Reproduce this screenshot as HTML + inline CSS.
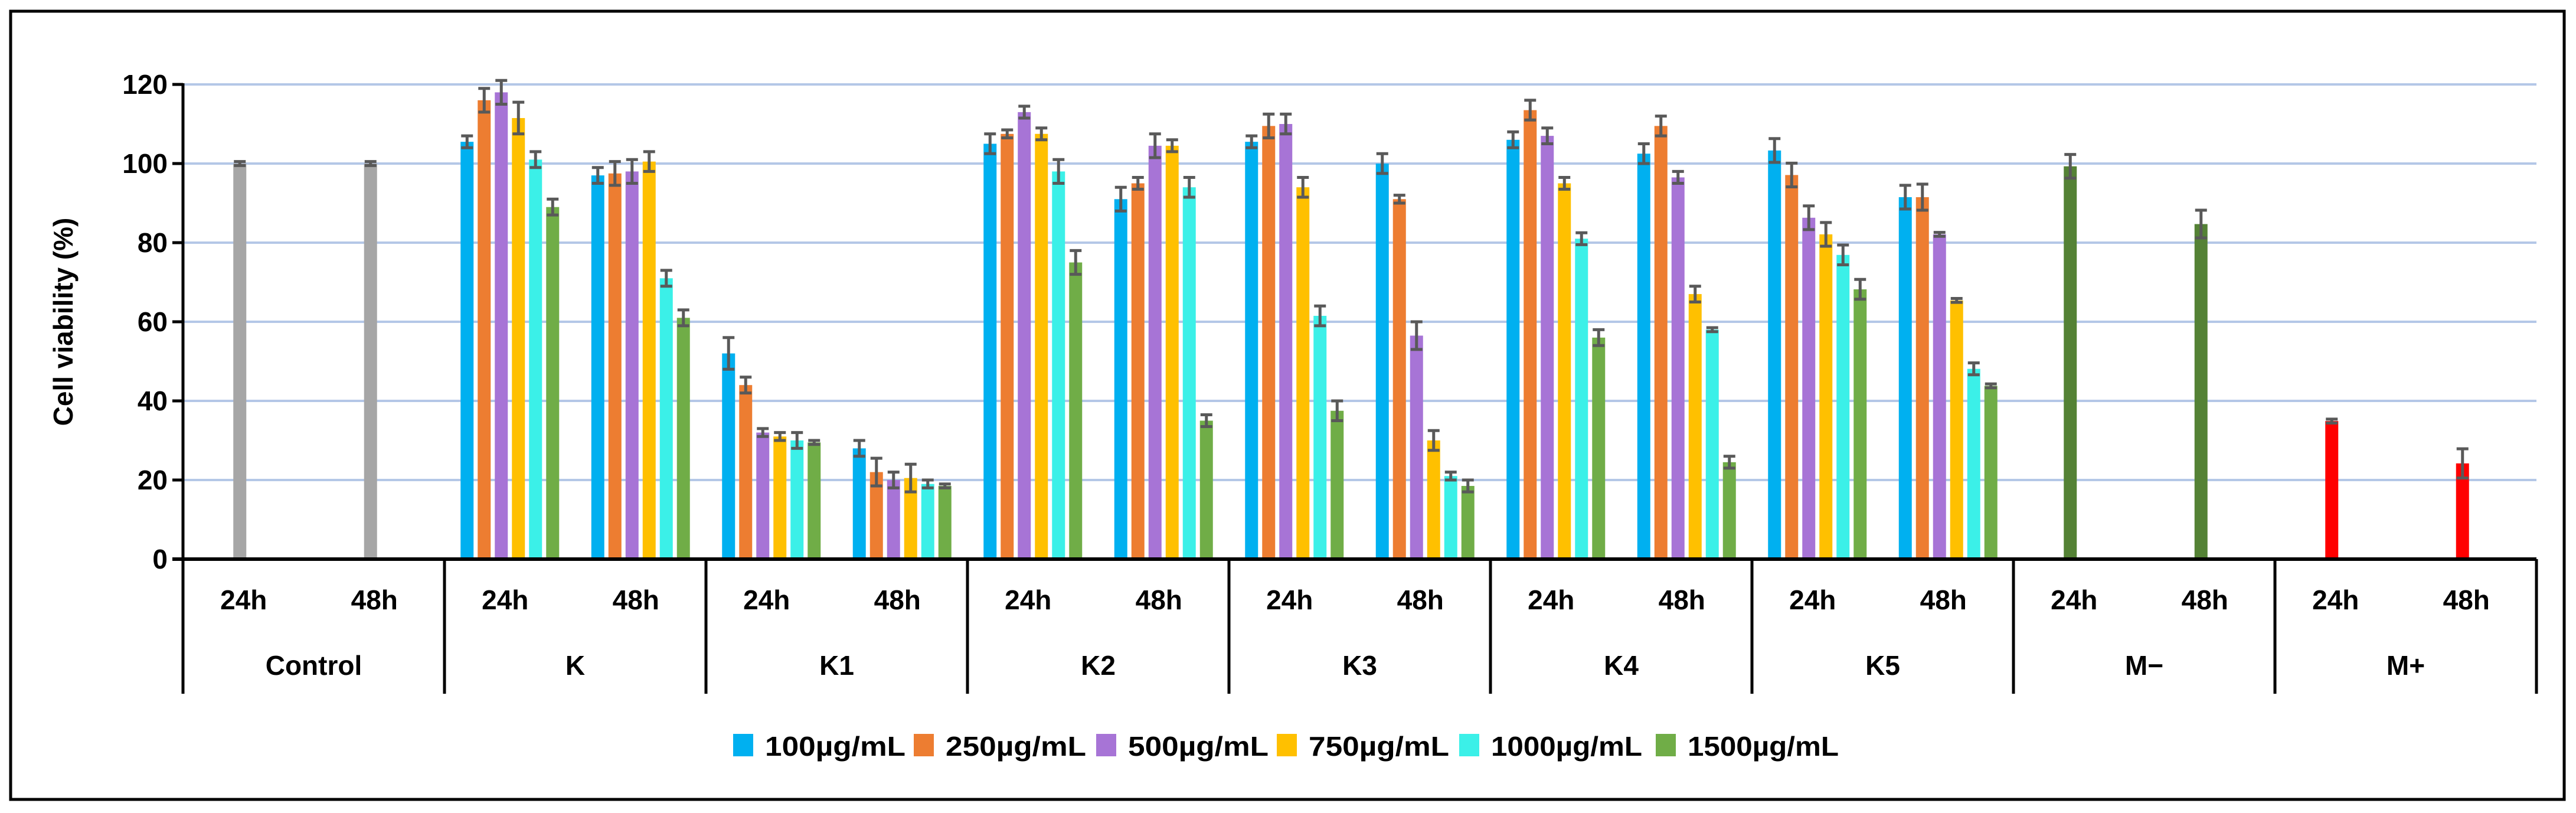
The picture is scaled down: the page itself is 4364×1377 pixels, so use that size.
<!DOCTYPE html>
<html><head><meta charset="utf-8"><style>
html,body{margin:0;padding:0;background:#fff;}
svg{display:block;font-family:"Liberation Sans",sans-serif;font-weight:bold;}
</style></head><body>
<svg id="chart" width="4364" height="1377" viewBox="0 0 4364 1377">
<rect x="18" y="19" width="4326" height="1335" fill="#fff" stroke="#000" stroke-width="5"/>
<g id="grid"></g>
<g id="bars"></g>
<g id="axes"></g>
<text x="111" y="545" font-size="46" text-anchor="middle" transform="rotate(-90 111 545)" dominant-baseline="middle">Cell viability (%)</text>
<g id="legend"></g>
</svg>
<script>
const groups = ["Control","K","K1","K2","K3","K4","K5","M−","M+"];
const times = ["24h","48h"];
const seriesNames = ["100µg/mL","250µg/mL","500µg/mL","750µg/mL","1000µg/mL","1500µg/mL"];
const seriesColors = ["#00B0F0","#ED7D31","#A774D6","#FFC000","#3BF0E8","#70AD47"];
const yTicks = [0,20,40,60,80,100,120];
const valK = [[105.5,116,118,111.5,101,89],[97,97.5,98,100.5,71,61]];
const errK = [[1.5,3,3,4,2,2],[2,3,3,2.5,2,2]];
const valK1 = [[52,44,32,31,30,29.5],[28,22,20,20.5,19,18.5]];
const errK1 = [[4,2,1,1,2,0.5],[2,3.5,2,3.5,1,0.5]];
const valK2 = [[105,107.5,113,107.5,98,75],[91,95,104.5,104.5,94,35]];
const errK2 = [[2.5,1,1.5,1.5,3,3],[3,1.5,3,1.5,2.5,1.5]];
const valK3 = [[105.5,109.5,110,94,61.5,37.5],[100,91,56.5,30,21,18.5]];
const errK3 = [[1.5,3,2.5,2.5,2.5,2.5],[2.5,1,3.5,2.5,1,1.5]];
const valK4 = [[106,113.5,107,95,81,56],[102.5,109.5,96.5,67,58,24.5]];
const errK4 = [[2,2.5,2,1.5,1.5,2],[2.5,2.5,1.5,2,0.5,1.5]];
const valK5 = [[103.3,97.1,86.3,82.1,76.9,68.2],[91.5,91.5,82.1,65.4,48.1,43.8]];
const errK5 = [[3,3,3,3,2.5,2.5],[3,3.3,0.5,0.5,1.5,0.5]];
const valControl = [100,100];
const errControl = [0.5,0.5];
const valMneg = [99.3,84.7];
const errMneg = [3,3.5];
const valMpos = [34.9,24.2];
const errMpos = [0.5,3.7];

const NS="http://www.w3.org/2000/svg";
const X0=310, X1=4297, Y0=947, Y120=143, AXB=1175;
const groupW=(X1-X0)/groups.length, subW=groupW/2, slot=29, barW=22;
function y(v){return Y0-(v/120)*(Y0-Y120);}
function subCenter(g,t){return X0+g*groupW+t*subW+subW/2;}
function slotX(g,t,s){return subCenter(g,t)+(s-2.5)*slot;}
function mk(tag,attrs,parent){const e=document.createElementNS(NS,tag);for(const k in attrs)e.setAttribute(k,attrs[k]);parent.appendChild(e);return e;}
const grid=document.getElementById('grid'), bars=document.getElementById('bars'), axes=document.getElementById('axes'), legend=document.getElementById('legend');
yTicks.forEach(t=>{
  if(t>0){const l=mk('line',{x1:X0,x2:X1,y1:y(t),y2:y(t),stroke:'#B4C7E7','stroke-width':4},grid);
  
  }
  const tk=mk('line',{x1:X0-18,x2:X0,y1:y(t),y2:y(t),stroke:'#000','stroke-width':5},axes);
  
  
  const tx=mk('text',{x:X0-26,y:y(t)+16,'font-size':46,'text-anchor':'end'},axes);
  tx.textContent=t;
  
  
});
function drawBar(g,t,s,v,e,color,name){
  const cx=slotX(g,t,s);
  const r=mk('rect',{x:cx-barW/2,y:y(v),width:barW,height:Y0-y(v),fill:color},bars);
  
  
  const eb=mk('path',{d:`M${cx-10},${y(v+e)}H${cx+10}M${cx},${y(v+e)}V${y(v-e)}M${cx-10},${y(v-e)}H${cx+10}`,stroke:'#595959','stroke-width':5,fill:'none'},bars);
  
  
}
const multi={1:[valK,errK],2:[valK1,errK1],3:[valK2,errK2],4:[valK3,errK3],5:[valK4,errK4],6:[valK5,errK5]};
for(const g in multi){const [vals,errs]=multi[g];
  for(let t=0;t<2;t++)for(let s=0;s<6;s++)drawBar(+g,t,s,vals[t][s],errs[t][s],seriesColors[s],'bar-'+groups[g].toLowerCase()+'-'+times[t]+'-'+s);}
for(let t=0;t<2;t++){
  drawBar(0,t,2,valControl[t],errControl[t],'#A6A6A6','bar-control-'+times[t]);
  drawBar(7,t,2,valMneg[t],errMneg[t],'#548235','bar-m-neg-'+times[t]);
  drawBar(8,t,2,valMpos[t],errMpos[t],'#FF0000','bar-m-pos-'+times[t]);
}
const ya=mk('line',{x1:X0,x2:X0,y1:Y120-2,y2:AXB,stroke:'#000','stroke-width':5},axes);


const xa=mk('line',{x1:X0-18,x2:X1,y1:Y0,y2:Y0,stroke:'#000','stroke-width':6},axes);


for(let g=1;g<=groups.length;g++){
  const d=mk('line',{x1:X0+g*groupW,x2:X0+g*groupW,y1:Y0,y2:AXB,stroke:'#000','stroke-width':5},axes);
  
  
}
groups.forEach((gname,g)=>{
  times.forEach((tn,t)=>{
    const tx=mk('text',{x:subCenter(g,t)-8,y:1032,'font-size':46,'text-anchor':'middle'},axes);
    tx.textContent=tn;
    
    
  });
  const gl=mk('text',{x:X0+g*groupW+groupW/2,y:1143,'font-size':46,'text-anchor':'middle'},axes);
  gl.textContent=gname;
  
  
});
const legX=[1242,1548,1857,2163,2472,2805];
seriesNames.forEach((n,i)=>{
  const sq=mk('rect',{x:legX[i],y:1243,width:34,height:38,fill:seriesColors[i]},legend);
  
  
  const tx=mk('text',{x:legX[i]+54,y:1280,'font-size':46,textLength:(n.length>8?256:238),lengthAdjust:'spacingAndGlyphs'},legend);
  tx.textContent=n;
  
  
});
</script>
</body></html>
